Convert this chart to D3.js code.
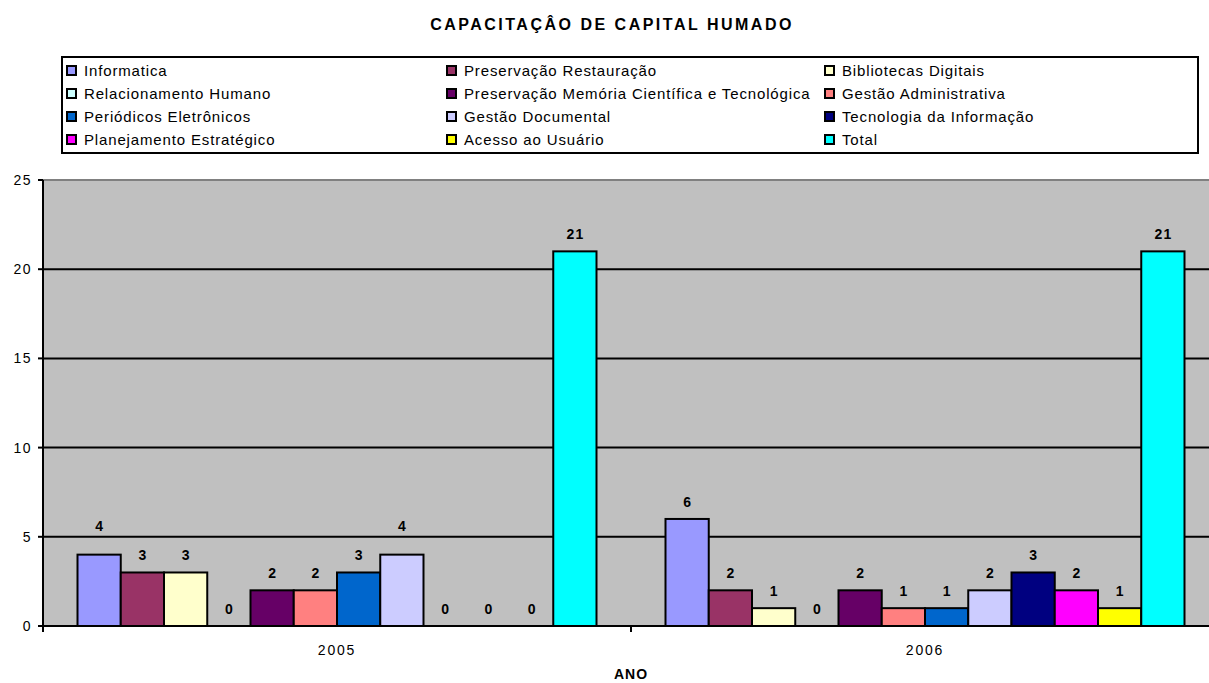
<!DOCTYPE html>
<html>
<head>
<meta charset="utf-8">
<script src="https://cdn.jsdelivr.net/npm/d3@7"></script>
<style>
  html, body { margin: 0; padding: 0; background: #fff; }
  svg { display: block; font-family: "Liberation Sans", Arial, sans-serif; }
</style>
</head>
<body>
<svg id="chart" width="1209" height="683"></svg>
<script>
const title = "CAPACITAÇÂO DE CAPITAL HUMADO";
const xTitle = "ANO";
const years = ["2005", "2006"];
const series = [
  "Informatica", "Preservação Restauração", "Bibliotecas Digitais",
  "Relacionamento Humano", "Preservação Memória Científica e Tecnológica", "Gestão Administrativa",
  "Periódicos Eletrônicos", "Gestão Documental", "Tecnologia da Informação",
  "Planejamento Estratégico", "Acesso ao Usuário", "Total"
];
const colors = [
  "#9999FF", "#993366", "#FFFFCC",
  "#CCFFFF", "#660066", "#FF8080",
  "#0066CC", "#CCCCFF", "#000080",
  "#FF00FF", "#FFFF00", "#00FFFF"
];
const values2005 = [4, 3, 3, 0, 2, 2, 3, 4, 0, 0, 0, 21];
const values2006 = [6, 2, 1, 0, 2, 1, 1, 2, 3, 2, 1, 21];
const yTicks = [0, 5, 10, 15, 20, 25];

const valuesByYear = { "2005": values2005, "2006": values2006 };

const svg = d3.select("#chart");

// Title
svg.append("text")
  .attr("x", 612).attr("y", 30)
  .attr("text-anchor", "middle")
  .attr("font-size", 16).attr("font-weight", "bold")
  .attr("letter-spacing", 2.5)
  .text(title);

// Plot geometry
const plot = { left: 43, right: 1219, top: 180, bottom: 626 };
const y = d3.scaleLinear().domain([0, 25]).range([plot.bottom, plot.top]);
const x0 = d3.scaleBand().domain(years).range([plot.left, plot.right]).padding(0);
const groupGap = 34.5;
const x1 = d3.scaleBand().domain(series).range([groupGap, x0.bandwidth() - groupGap]).padding(0);

// Plot background
svg.append("rect")
  .attr("x", plot.left).attr("y", plot.top)
  .attr("width", plot.right - plot.left).attr("height", plot.bottom - plot.top)
  .attr("fill", "#C0C0C0");
svg.append("line")
  .attr("x1", plot.left).attr("x2", plot.right)
  .attr("y1", plot.top).attr("y2", plot.top)
  .attr("stroke", "#808080").attr("stroke-width", 2);

// Gridlines
svg.append("g").selectAll("line")
  .data(yTicks.filter(t => t > 0 && t < 25))
  .join("line")
  .attr("x1", plot.left).attr("x2", plot.right)
  .attr("y1", d => y(d)).attr("y2", d => y(d))
  .attr("stroke", "#000").attr("stroke-width", 2);

// Bars
const groups = svg.append("g").selectAll("g")
  .data(years)
  .join("g")
  .attr("transform", d => `translate(${x0(d)},0)`);

groups.selectAll("rect")
  .data(yr => valuesByYear[yr].map((v, i) => ({ v, s: series[i], c: colors[i] })))
  .join("rect")
  .filter(d => d.v > 0)
  .attr("x", d => x1(d.s))
  .attr("y", d => y(d.v))
  .attr("width", x1.bandwidth())
  .attr("height", d => y(0) - y(d.v))
  .attr("fill", d => d.c)
  .attr("stroke", "#000").attr("stroke-width", 2);

// Labels (moved above a gridline if they would cross it)
const gridYs = yTicks.filter(t => t > 0).map(t => y(t));
groups.selectAll("text")
  .data(yr => valuesByYear[yr].map((v, i) => ({ v, s: series[i] })))
  .join("text")
  .attr("x", d => x1(d.s) + x1.bandwidth() / 2 + 0.7)
  .attr("y", d => {
    let by = y(d.v) - 12;
    for (const g of gridYs) {
      if (g > by - 12 && g < by + 3) by = g - 6;
    }
    return by;
  })
  .attr("text-anchor", "middle")
  .attr("font-size", 14).attr("font-weight", "bold")
  .attr("letter-spacing", 1.4)
  .text(d => d.v);

// Y axis
svg.append("line")
  .attr("x1", plot.left).attr("x2", plot.left)
  .attr("y1", plot.top).attr("y2", plot.bottom + 1)
  .attr("stroke", "#000").attr("stroke-width", 2);
const yt = svg.append("g").selectAll("g").data(yTicks).join("g");
yt.append("line")
  .attr("x1", plot.left - 5).attr("x2", plot.left)
  .attr("y1", d => y(d)).attr("y2", d => y(d))
  .attr("stroke", "#000").attr("stroke-width", 2);
yt.append("text")
  .attr("x", plot.left - 11).attr("y", d => y(d) + 5)
  .attr("text-anchor", "end").attr("font-size", 14)
  .attr("letter-spacing", 1.5)
  .text(d => d);

// X axis
svg.append("line")
  .attr("x1", plot.left).attr("x2", plot.right)
  .attr("y1", plot.bottom).attr("y2", plot.bottom)
  .attr("stroke", "#000").attr("stroke-width", 2);
const xTickPos = years.map(d => x0(d)).concat([x0(years[years.length - 1]) + x0.bandwidth()]);
svg.append("g").selectAll("line").data(xTickPos).join("line")
  .attr("x1", d => d).attr("x2", d => d)
  .attr("y1", plot.bottom).attr("y2", plot.bottom + 6)
  .attr("stroke", "#000").attr("stroke-width", 2);
svg.append("g").selectAll("text").data(years).join("text")
  .attr("x", d => x0(d) + x0.bandwidth() / 2)
  .attr("y", 655)
  .attr("text-anchor", "middle").attr("font-size", 14)
  .attr("letter-spacing", 1.8)
  .text(d => d);
svg.append("text")
  .attr("x", 631).attr("y", 679)
  .attr("text-anchor", "middle").attr("font-size", 14).attr("font-weight", "bold")
  .attr("letter-spacing", 1)
  .text(xTitle);

// Legend
const legend = { x: 62, y: 57, w: 1136, h: 96 };
svg.append("rect")
  .attr("x", legend.x).attr("y", legend.y)
  .attr("width", legend.w).attr("height", legend.h)
  .attr("fill", "#fff").attr("stroke", "#000").attr("stroke-width", 2);
const colX = [67, 447, 825];
const rowY = [71, 94, 117, 140];
const li = svg.append("g").selectAll("g").data(series).join("g")
  .attr("transform", (d, i) => `translate(${colX[i % 3]},${rowY[Math.floor(i / 3)]})`);
li.append("rect")
  .attr("x", 0).attr("y", -5).attr("width", 9).attr("height", 9)
  .attr("fill", (d, i) => colors[i]).attr("stroke", "#000").attr("stroke-width", 2);
li.append("text")
  .attr("x", 17).attr("y", 5)
  .attr("font-size", 15)
  .attr("letter-spacing", 0.85)
  .text(d => d);
</script>
</body>
</html>
